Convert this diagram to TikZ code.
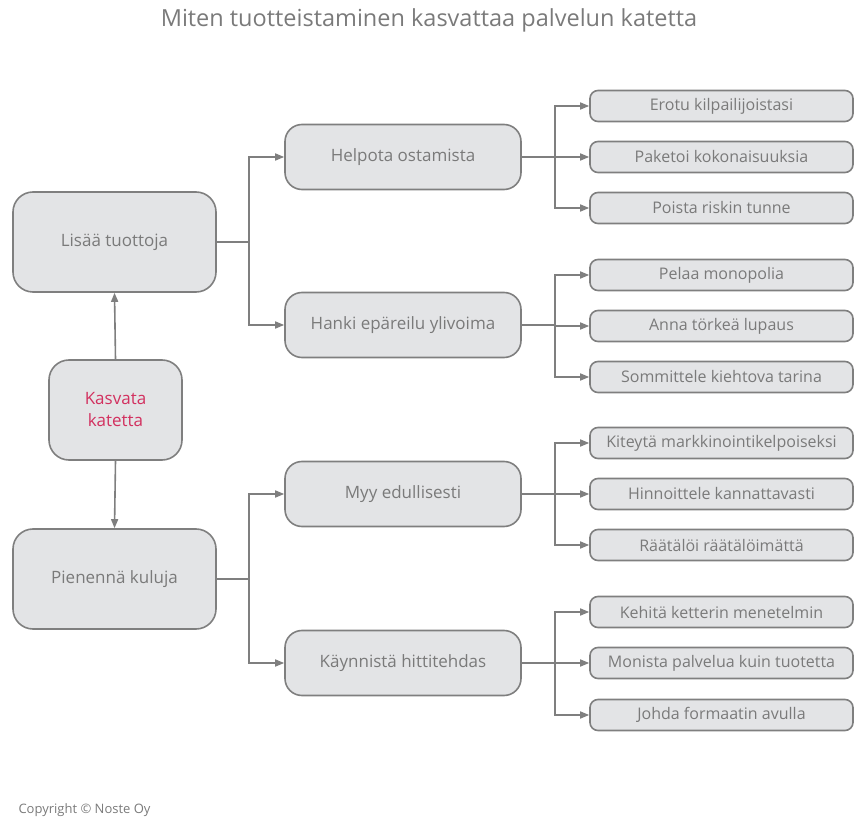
\documentclass[tikz,border=0pt]{standalone}
\usepackage{fontspec}
\setmainfont{Open Sans}
\usetikzlibrary{arrows.meta}
\definecolor{boxfill}{HTML}{E3E4E6}
\definecolor{boxline}{HTML}{7F7F7F}
\definecolor{txt}{HTML}{7A7A7A}
\definecolor{accent}{HTML}{D2305F}
\tikzset{
  base/.style={draw=boxline, fill=boxfill, line width=1.6pt, text=txt, align=center, inner sep=0pt},
  bigbox/.style={base, rounded corners=20pt, minimum width=203pt, minimum height=100pt, font=\fontsize{17}{21}\selectfont},
  midbox/.style={base, rounded corners=17pt, minimum width=236pt, minimum height=65pt, font=\fontsize{17}{21}\selectfont},
  leafbox/.style={base, rounded corners=8pt, minimum width=263pt, minimum height=31pt, font=\fontsize{16}{19}\selectfont},
  conn/.style={draw=boxline, line width=1.6pt},
  arr/.style={conn, -{Triangle[length=9pt,width=7pt]}},
}
\begin{document}
\begin{tikzpicture}[x=1pt,y=-1pt]
\useasboundingbox (0,0) rectangle (855,818);
\node[text=txt, font=\fontsize{23.5}{28}\selectfont] (title) at (429,20) {Miten tuotteistaminen kasvattaa palvelun katetta};

\node[bigbox] (lisaa) at (114.5,242) {Lisää tuottoja};
\node[base, rounded corners=20pt, minimum width=133pt, minimum height=100pt, text=accent, font=\fontsize{17}{22}\selectfont] (kasvata) at (115.5,410) {Kasvata\\katetta};
\node[bigbox] (pienenna) at (114.5,579) {Pienennä kuluja};

\node[midbox] (helpota) at (403,157) {Helpota ostamista};
\node[midbox] (hanki) at (403,325) {Hanki epäreilu ylivoima};
\node[midbox] (myy) at (403,494) {Myy edullisesti};
\node[midbox] (kaynnista) at (403,663) {Käynnistä hittitehdas};

\node[leafbox] (l1) at (721.5,106) {Erotu kilpailijoistasi};
\node[leafbox] (l2) at (721.5,157) {Paketoi kokonaisuuksia};
\node[leafbox] (l3) at (721.5,208) {Poista riskin tunne};
\node[leafbox] (l4) at (721.5,275) {Pelaa monopolia};
\node[leafbox] (l5) at (721.5,326) {Anna törkeä lupaus};
\node[leafbox] (l6) at (721.5,377) {Sommittele kiehtova tarina};
\node[leafbox] (l7) at (721.5,443) {Kiteytä markkinointikelpoiseksi};
\node[leafbox] (l8) at (721.5,494) {Hinnoittele kannattavasti};
\node[leafbox] (l9) at (721.5,545) {Räätälöi räätälöimättä};
\node[leafbox] (l10) at (721.5,612) {Kehitä ketterin menetelmin};
\node[leafbox] (l11) at (721.5,663) {Monista palvelua kuin tuotetta};
\node[leafbox] (l12) at (721.5,715) {Johda formaatin avulla};

\node[anchor=west, text=txt, font=\fontsize{13}{15}\selectfont] (copy) at (15,810) {Copyright © Noste Oy};

% center to left boxes
\draw[arr] (kasvata.north) -- (lisaa.south);
\draw[arr] (kasvata.south) -- (pienenna.south |- pienenna.north);

% left to middle
\coordinate (ja) at (249,242);
\coordinate (jb) at (249,579);
\draw[conn] (lisaa.east) -- (ja);
\draw[arr] (ja) |- (helpota.west);
\draw[arr] (ja) |- (hanki.west);
\draw[conn] (pienenna.east) -- (jb);
\draw[arr] (jb) |- (myy.west);
\draw[arr] (jb) |- (kaynnista.west);

% middle to leaves
\coordinate (k1) at (555,157);
\coordinate (k2) at (555,325);
\coordinate (k3) at (555,494);
\coordinate (k4) at (555,663);
\draw[conn] (helpota.east) -- (k1);
\draw[arr] (k1) |- (l1.west);
\draw[arr] (k1) |- (l2.west);
\draw[arr] (k1) |- (l3.west);
\draw[conn] (hanki.east) -- (k2);
\draw[arr] (k2) |- (l4.west);
\draw[arr] (k2) |- (l5.west);
\draw[arr] (k2) |- (l6.west);
\draw[conn] (myy.east) -- (k3);
\draw[arr] (k3) |- (l7.west);
\draw[arr] (k3) |- (l8.west);
\draw[arr] (k3) |- (l9.west);
\draw[conn] (kaynnista.east) -- (k4);
\draw[arr] (k4) |- (l10.west);
\draw[arr] (k4) |- (l11.west);
\draw[arr] (k4) |- (l12.west);
\end{tikzpicture}
\end{document}
